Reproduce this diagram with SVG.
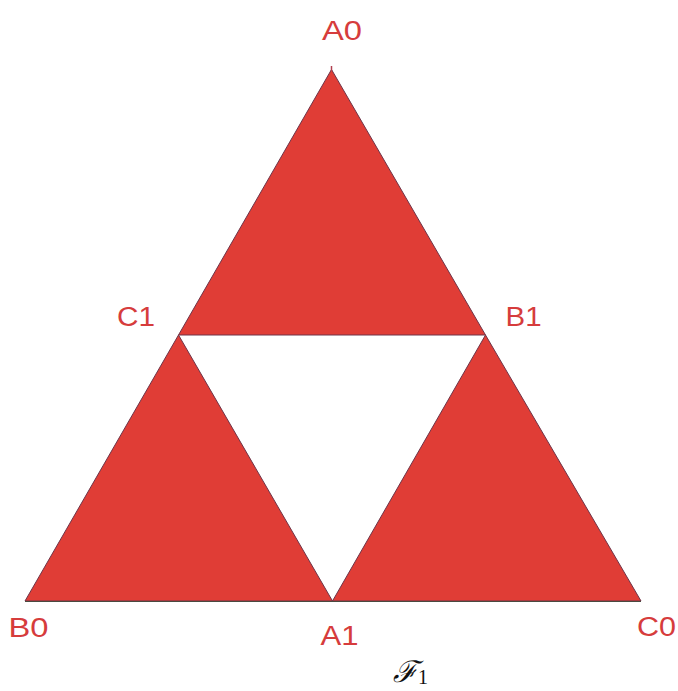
<svg xmlns="http://www.w3.org/2000/svg" width="678" height="691" viewBox="0 0 678 691">
<style>
.tri{fill:#e03d36;stroke:#6e3448;stroke-width:1;stroke-linejoin:miter}
.lbl{font-family:"Liberation Sans",Arial,sans-serif;font-size:27px;fill:#d63c3c}
.cap{font-family:"DejaVu Serif","Liberation Serif",serif;font-style:italic;fill:#111}
</style>
<rect width="678" height="691" fill="#ffffff"/>
<g id="tri-top"><polygon class="tri" points="331.5,69.5 178.5,335 485.5,335"/></g>
<g id="tri-left"><polygon class="tri" points="178.5,335 25,601 332.5,601"/></g>
<g id="tri-right"><polygon class="tri" points="485.5,335 332.5,601 641,601"/></g>
<g id="connectors">
<line x1="331.5" y1="66" x2="331.5" y2="71" stroke="#b04050" stroke-width="1.5"/>
<line x1="25" y1="601.5" x2="641" y2="601.5" stroke="#4a4a40" stroke-width="1.2"/>
</g>
<g id="label-A0"><text class="lbl" x="322" y="39.5" textLength="40" lengthAdjust="spacingAndGlyphs">A0</text></g>
<g id="label-C1"><text class="lbl" x="117" y="325.5" textLength="38" lengthAdjust="spacingAndGlyphs">C1</text></g>
<g id="label-B1"><text class="lbl" x="505.5" y="325.5" textLength="36" lengthAdjust="spacingAndGlyphs">B1</text></g>
<g id="label-B0"><text class="lbl" x="8.5" y="637" textLength="40" lengthAdjust="spacingAndGlyphs">B0</text></g>
<g id="label-A1"><text class="lbl" x="320.5" y="645" textLength="38" lengthAdjust="spacingAndGlyphs">A1</text></g>
<g id="label-C0"><text class="lbl" x="637" y="635.5" textLength="39" lengthAdjust="spacingAndGlyphs">C0</text></g>
<g id="caption"><text class="cap" x="393" y="682" font-size="30">ℱ<tspan font-style="normal" font-family="Liberation Serif,serif" font-size="20" dy="2">1</tspan></text></g>
</svg>
